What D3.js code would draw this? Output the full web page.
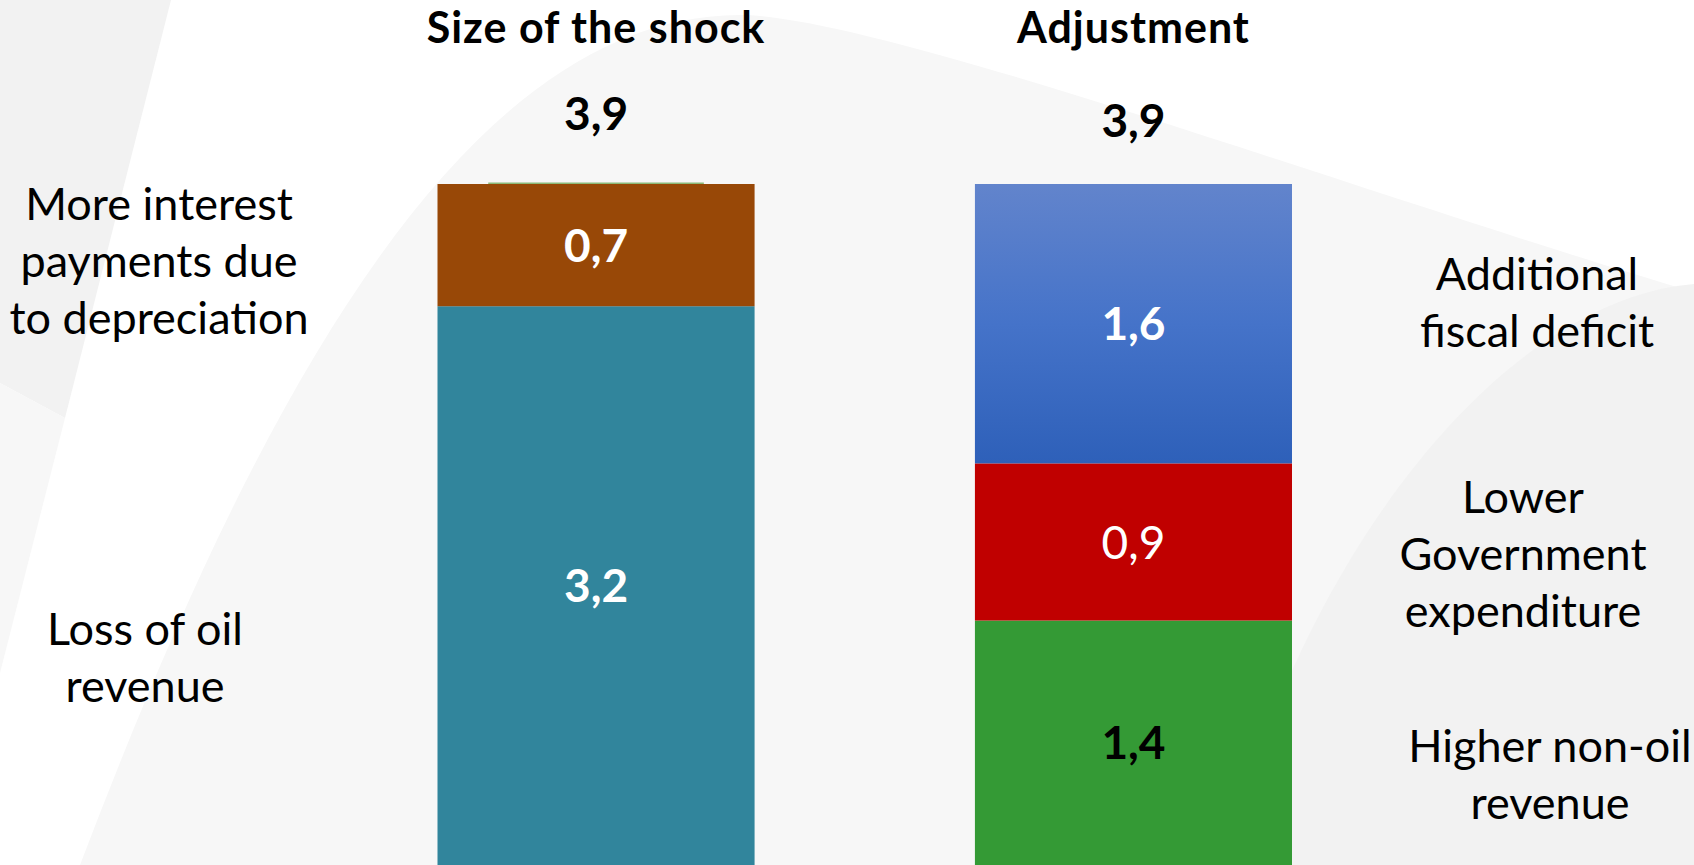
<!DOCTYPE html>
<html>
<head>
<meta charset="utf-8">
<script src="https://cdn.jsdelivr.net/npm/d3@7"></script>
<style>
  html, body { margin: 0; padding: 0; background: #ffffff; }
  svg { display: block; }
  text { font-family: "Lato", "Open Sans", "DejaVu Sans", sans-serif; }
</style>
</head>
<body>
<svg id="chart" width="1694" height="865"></svg>
<script>
// ---- data -------------------------------------------------------------
const categories = ["Size of the shock", "Adjustment"];
const totals = [3.9, 3.9];

// stacked from the bottom up
const shockParts  = ["Loss of oil revenue", "More interest payments due to depreciation"];
const shockValues = [3.2, 0.7];

const adjustParts  = ["Higher non-oil revenue", "Lower Government expenditure", "Additional fiscal deficit"];
const adjustValues = [1.4, 0.9, 1.6];

const valueLabels = { shock: ["3,2", "0,7"], adjust: ["1,4", "0,9", "1,6"] };
const totalLabels = ["3,9", "3,9"];

// ---- styling ----------------------------------------------------------
const shockFills  = ["#31859c", "#984807"];
const adjustFills = ["#349a35", "#c00000", "url(#blueGrad)"];
const shockLabelStyle  = [{ fill: "#ffffff", weight: 700 }, { fill: "#ffffff", weight: 700 }];
const adjustLabelStyle = [{ fill: "#000000", weight: 700 }, { fill: "#ffffff", weight: 400 }, { fill: "#ffffff", weight: 700 }];

const W = 1694, H = 865;
const svg = d3.select("#chart");

// ---- backdrop shapes --------------------------------------------------
const defs = svg.append("defs");
const grad = defs.append("linearGradient").attr("id", "blueGrad")
  .attr("x1", 0).attr("y1", 0).attr("x2", 0).attr("y2", 1);
grad.append("stop").attr("offset", "0%").attr("stop-color", "#6284cc");
grad.append("stop").attr("offset", "50%").attr("stop-color", "#4573c9");
grad.append("stop").attr("offset", "100%").attr("stop-color", "#2e60b9");

const bg = svg.append("g").attr("class", "backdrop");
bg.append("rect").attr("width", W).attr("height", H).attr("fill", "#ffffff");
bg.append("path").attr("fill", "#f2f2f2")
  .attr("d", "M0,0 L171,0 L65,418 L0,383 Z");
bg.append("path").attr("fill", "#f7f7f7")
  .attr("d", "M0,383 L65,418 L0,673 Z");

// large sweeping arc behind the bars
const bigArc = d3.path();
bigArc.moveTo(80, 865);
bigArc.bezierCurveTo(251, 415, 460, 15, 740, 15);
bigArc.bezierCurveTo(880, 15, 1380, 200, 1694, 292);
bigArc.lineTo(W, H);
bigArc.closePath();
bg.append("path").attr("fill", "#f7f7f7").attr("d", bigArc.toString());

// darker arc in the lower right corner
const rightArc = d3.path();
rightArc.moveTo(1694, 284);
rightArc.bezierCurveTo(1500, 300, 1300, 560, 1225, 865);
rightArc.lineTo(W, H);
rightArc.closePath();
bg.append("path").attr("fill", "#f2f2f2").attr("d", rightArc.toString());

// ---- scales -----------------------------------------------------------
const x = d3.scaleBand().domain(categories).range([437.5, 1292]).paddingInner(0.41).paddingOuter(0);
const y = d3.scaleLinear().domain([0, d3.max(totals)]).range([H, 184]);

function stack(values) {
  let acc = 0;
  return values.map(v => { const s = { y0: acc, y1: acc + v, v }; acc += v; return s; });
}

const bars = [
  { cat: categories[0], segs: stack(shockValues), fills: shockFills, labels: valueLabels.shock, styles: shockLabelStyle },
  { cat: categories[1], segs: stack(adjustValues), fills: adjustFills, labels: valueLabels.adjust, styles: adjustLabelStyle }
];

const plot = svg.append("g").attr("class", "bars");
bars.forEach(b => {
  const g = plot.append("g");
  g.selectAll("rect").data(b.segs).join("rect")
    .attr("x", x(b.cat))
    .attr("width", x.bandwidth())
    .attr("y", d => y(d.y1))
    .attr("height", d => y(d.y0) - y(d.y1))
    .attr("fill", (d, i) => b.fills[i]);
  g.selectAll("text").data(b.segs).join("text")
    .attr("x", x(b.cat) + x.bandwidth() / 2)
    .attr("y", d => (y(d.y0) + y(d.y1)) / 2)
    .attr("dy", "0.36em")
    .attr("text-anchor", "middle")
    .attr("font-size", 46)
    .attr("font-weight", (d, i) => b.styles[i].weight)
    .attr("fill", (d, i) => b.styles[i].fill)
    .text((d, i) => b.labels[i]);
});

// thin rule sitting on top of the first stack
plot.append("line")
  .attr("x1", x(categories[0]) + x.bandwidth() * 0.16)
  .attr("x2", x(categories[0]) + x.bandwidth() * 0.84)
  .attr("y1", y(totals[0]) - 0.8).attr("y2", y(totals[0]) - 0.8)
  .attr("stroke", "#8cba78").attr("stroke-width", 1.6);

// ---- column headings and totals --------------------------------------
const heads = svg.append("g").attr("class", "heads");
heads.selectAll("text.cat").data(categories).join("text")
  .attr("class", "cat")
  .attr("x", d => x(d) + x.bandwidth() / 2)
  .attr("y", 43)
  .attr("text-anchor", "middle")
  .attr("font-size", 43)
  .attr("letter-spacing", 1)
  .attr("font-weight", 700)
  .attr("fill", "#000")
  .text(d => d);

const totalBaselines = [130, 137];
heads.selectAll("text.tot").data(totals).join("text")
  .attr("class", "tot")
  .attr("x", (d, i) => x(categories[i]) + x.bandwidth() / 2)
  .attr("y", (d, i) => totalBaselines[i])
  .attr("text-anchor", "middle")
  .attr("font-size", 46)
  .attr("font-weight", 700)
  .attr("fill", "#000")
  .text((d, i) => totalLabels[i]);

// ---- side annotations -------------------------------------------------
const sideNotes = [
  { lines: ["More interest", "payments due", "to depreciation"], cx: 159, base: 220 },
  { lines: ["Loss of oil", "revenue"], cx: 145, base: 645 },
  { lines: ["Additional", "fiscal deficit"], cx: 1537, base: 290 },
  { lines: ["Lower", "Government", "expenditure"], cx: 1523, base: 513 },
  { lines: ["Higher non-oil", "revenue"], cx: 1550, base: 762 }
];
const notes = svg.append("g").attr("class", "notes");
sideNotes.forEach(n => {
  const t = notes.append("text")
    .attr("text-anchor", "middle")
    .attr("font-size", 45)
    .attr("fill", "#000");
  n.lines.forEach((ln, i) => {
    t.append("tspan").attr("x", n.cx).attr("y", n.base + i * 57).text(ln);
  });
});
</script>
</body>
</html>
